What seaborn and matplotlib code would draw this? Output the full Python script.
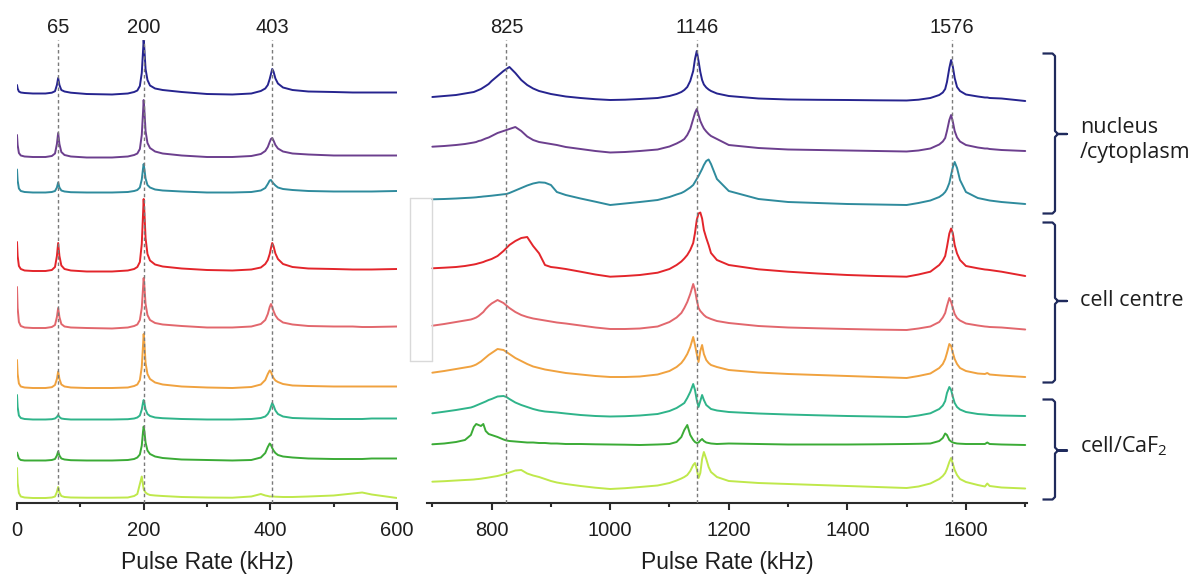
import numpy as np
import matplotlib
matplotlib.use("Agg")
import matplotlib.pyplot as plt
from matplotlib.lines import Line2D
from matplotlib.ticker import MultipleLocator
import seaborn as sns

sns.set_theme(style="white")
plt.rcParams["font.family"] = ["Liberation Sans", "DejaVu Sans"]

# ---------------------------------------------------------------- data
# Pulse-rate axis for the low-frequency window (kHz)
low_khz = [0, 1, 3, 6, 12, 25, 45, 55, 60, 63, 65, 67, 70, 75, 85, 110, 150, 175,
           185, 190, 194, 197, 199, 200, 201, 203, 206, 210, 218, 230, 260, 300,
           340, 370, 385, 392, 396, 399, 401, 403, 405, 408, 412, 420, 435, 460,
           500, 530, 545, 560, 600]

# Pulse-rate axis for the high-frequency window (kHz)
high_khz = [700, 720, 740, 755, 765, 770, 774, 778, 782, 786, 790, 795, 800, 810,
            820, 825, 830, 840, 850, 860, 870, 880, 890, 900, 910, 925, 950, 975, 1000, 1025,
            1050, 1080, 1100, 1112, 1120, 1125, 1130, 1135, 1140, 1143, 1146, 1149,
            1152, 1155, 1158, 1162, 1166, 1170, 1180, 1200, 1250, 1300, 1350, 1400, 1450, 1500, 1520,
            1540, 1555, 1561, 1565, 1568, 1572, 1575, 1578, 1581, 1585, 1590, 1600,
            1620, 1632, 1636, 1640, 1660, 1700]

# Intensities (arb. units) -- nucleus / cytoplasm spectra
nucleus_1_low = [8, 4.5, 1.5, 0.5, 0, -0.5, -0.5, 0.3, 1.8, 8, 15, 8, 3, 1.5, 0.3, -1, -1.5, -0.5,
                 1, 2.5, 7, 20, 42, 53, 45, 24, 13, 7.5, 4.5, 3, 1, -1,
                 -1.5, -0.5, 2, 4.5, 8, 14, 19, 24, 21.5, 14.5, 9.5, 5.5, 3, 1.5,
                 1, 0.5, 0.5, 0.5, 0.5]
nucleus_2_low = [22, 12, 4, 1.5, 0.5, 0, 0, 1, 3.5, 13, 24, 13, 5, 2, 0.5, -0.5, -0.5, 0.5,
                 2, 3.5, 8, 22, 45, 57, 48, 26, 14, 9, 5.5, 3.5, 1.5, 0,
                 0, 1, 3, 6, 10, 15, 18, 19, 16.5, 12, 8.5, 5.5, 3.5, 2.5,
                 1.5, 1.5, 1.5, 1.5, 1.5]
nucleus_3_low = [23, 12, 4, 1.5, 0.5, 0, 0, 0.5, 1.5, 5, 10, 5, 2, 1, 0.3, 0, 0, 0.5,
                 1.5, 2.5, 5, 13, 24, 28.5, 24, 14, 7.5, 5, 3, 2, 1, 0,
                 0, 0.5, 2, 4.5, 8.5, 12, 12.5, 10.5, 9, 7, 5, 3.5, 2.5, 1.5,
                 1, 1, 1, 1, 1.5]

nucleus_1_high = [3, 4, 5, 6.5, 7.5, 8, 9, 10, 11, 12.5, 14, 16, 19, 24,
                  29, 31, 33, 27, 20, 15, 11.5, 9, 7.5, 6, 5, 3.5, 2, 0.8, 0, 0.3,
                  1, 2, 4, 6, 8, 10, 13, 19, 29, 41, 49, 39,
                  28, 20, 15.5, 12.5, 10.5, 9, 6.5, 4, 1.5, 0.5, 0.2, 0, -0.3, -0.5, 0.3,
                  2, 5, 7.5, 11, 18, 32, 40, 33, 22, 13, 9, 5.5,
                  3.5, 2.5, 2.5, 2, 1.5, -1]
nucleus_2_high = [6.3, 7, 8, 9, 10, 10.5, 11, 12, 12.5, 13.5, 14.5, 15.5, 17, 20,
                  22, 23, 24, 26, 22, 16.5, 13, 11, 10, 9, 8, 6, 4, 2, 0.5, 1,
                  2, 3.5, 6.5, 9.5, 12, 14, 18, 24, 34, 40, 44, 38,
                  32, 28, 24.5, 21.5, 19, 17, 14, 8, 5, 3.5, 3, 2.5, 2, 1.5, 2.5,
                  4.5, 8.5, 11.5, 15, 22, 33, 38, 31, 22, 15.5, 11.5, 8,
                  5.5, 4.5, 4.5, 4, 3, 2]
nucleus_3_high = [5.7, 6, 6.5, 7, 7.3, 7.5, 7.7, 8, 8.2, 8.5, 8.7, 9, 9.3, 10,
                  10.7, 11, 12, 14.5, 17, 19.5, 21.5, 22.7, 22.3, 20, 13, 10, 6.5, 3.3, 0, 1.5,
                  3, 5, 8, 10.5, 12, 13.5, 15.5, 17.5, 20, 23, 26, 29,
                  32.5, 36, 40, 44, 45.5, 41, 26, 14, 6, 3, 2, 1, 0.5, 0, 2,
                  4.5, 8, 10.5, 13, 16, 22, 30, 38, 43, 37, 25, 13,
                  7, 5.5, 5, 4.5, 3, 1]

# Intensities (arb. units) -- cell centre spectra
centre_1_low = [29, 15, 5, 2, 0.5, 0, 0, 1, 4, 15, 28, 15, 5.5, 2, 0.5, -0.5, -0.5, 0.5,
                2, 4, 9, 27, 57, 72, 61, 33, 17, 10.5, 6.5, 4.5, 2.5, 1,
                0.5, 1.5, 3.5, 7, 11, 17, 23, 28, 25, 17.5, 12, 7, 4, 2.5,
                2, 1.5, 1.5, 1.5, 2]
centre_2_low = [41, 20, 6, 2, 0.5, 0, 0, 1, 3, 11, 20, 11, 4, 1.5, 0.5, 0, -0.5, 0.5,
                2, 3.5, 8, 20, 40, 50, 43, 24, 13, 8, 5, 3.5, 2, 0.5,
                0.5, 1.5, 4, 8, 14, 21, 24, 21, 17, 12.5, 9, 5.5, 3.5, 2,
                1.5, 1.5, 1, 1, 1.5]
centre_3_low = [28, 14, 4.5, 1.5, 0.5, 0, 0, 0.8, 3, 9, 16.5, 9, 3.5, 1.5, 0.5, 0, 0, 0.5,
                2, 3.5, 8, 21, 43, 54, 46, 25, 14, 9, 5.5, 3.5, 1.5, 0.5,
                0, 1, 3.5, 8, 14, 17.5, 16, 12.5, 10, 7.5, 6, 4, 2.5, 2,
                1.5, 1.5, 1.5, 1.5, 1.5]

centre_1_high = [8.7, 9.3, 10, 11, 12, 12.5, 13, 13.7, 14.3, 15, 16, 17, 18, 21,
                 26, 29, 32, 36, 39, 40, 31, 23.7, 12, 10, 9.3, 8, 5.3, 2.5, 0.3, 1,
                 2, 4.3, 8, 12, 15.5, 18.5, 22, 27, 34, 44, 57, 63.5,
                 64.5, 58.5, 47, 39, 32, 24, 17, 12, 7.7, 5.3, 3.5, 2, 1, 0.3, 2.5,
                 5.3, 12, 16.5, 21, 30, 43.5, 48.5, 43.5, 32, 23.5, 17, 11,
                 8.7, 7.5, 7.3, 7, 5.3, 1]
centre_2_high = [4.3, 6, 8, 9.5, 10.5, 11.5, 12.5, 14, 16, 18, 21, 24, 26.5, 30,
                 27, 24.5, 22, 18, 15, 13, 11.5, 10.5, 9.5, 8.5, 7.5, 6.5, 4.5, 2.5, 1, 1,
                 1.5, 3.5, 8, 12.5, 17, 22, 28, 36, 46, 40, 30, 22,
                 19, 17, 15, 13, 12, 11, 9, 7, 4, 2.5, 1.7, 1, 0.4, 0, 1.5,
                 3.5, 8, 12.5, 17, 24, 32, 28, 22, 16, 12, 9.5, 6.5,
                 4.5, 3.5, 3.3, 3, 2.5, 0.5]
centre_3_high = [5.3, 7, 9, 10.5, 11.5, 12.5, 13.5, 15, 16.5, 18.5, 20.5, 23, 25, 29,
                 28, 26, 24, 20, 17, 14, 11.5, 10, 8.5, 7.5, 6.5, 5, 3.5, 2, 1, 1,
                 1.5, 3.5, 7, 11, 15, 19, 24, 31, 41, 33, 24, 16,
                 27, 33, 24, 18, 15, 13, 11, 8, 5.5, 4, 3, 2, 1, 0, 2,
                 4.5, 10, 14, 19, 25, 34, 32, 25, 19, 14, 10, 7,
                 4.5, 4, 5, 3.5, 2.5, 1]

# Intensities (arb. units) -- cell / CaF2 interface spectra
caf2_1_low = [24.5, 12.5, 4, 1.5, 0.5, 0, 0, 0.3, 1, 2.5, 4.5, 2.5, 1, 0.5, 0, 0, 0, 0.3,
              1, 2, 4, 10, 17, 19.5, 17, 10, 5.5, 3.5, 2, 1.3, 0.5, 0,
              0, 0.5, 1.5, 3, 5.5, 9, 13, 16.5, 14, 9, 5.5, 3, 1.5, 1,
              0.5, 0.5, 0.5, 1, 1]
caf2_2_low = [8, 6, 2, 0.5, 0, 0, 0, 0.5, 1.5, 5, 9, 5, 2, 1, 0.3, 0, 0, 0.5,
              1.5, 3, 6, 15, 29, 34, 30, 18, 10, 6.5, 4, 2.5, 1, 0.5,
              0, 0.5, 3, 7.5, 13.5, 17, 15.5, 12.5, 10, 7.5, 5.5, 4, 3, 2,
              1.5, 1.5, 1.5, 2, 2]
caf2_3_low = [30, 15, 5, 1.5, 0.5, 0, 0, 0.5, 1.5, 6, 11, 5.5, 2, 1, 0.5, 0.3, 0.3, 0.5,
              2, 4, 14, 21.5, 13, 9, 7.5, 5.5, 4, 3, 2.5, 2, 1, 0.5,
              0.3, 1.5, 4, 2.5, 2, 1.5, 1.5, 1.5, 1.5, 1.3, 1.2, 1, 1, 1.5,
              2.5, 4.5, 5.5, 3.5, 0]

caf2_1_high = [3.7, 5.3, 7, 8.5, 9.5, 10.5, 11.5, 12.5, 13.5, 14.5, 15.5, 17, 18, 20.5,
               21, 20, 18, 14.5, 12, 10, 8, 6.5, 5.5, 5, 4.5, 3.5, 2, 1, 0.5, 0.8,
               1.5, 3, 6, 9, 12, 14, 19, 25, 33, 27, 17, 10,
               16, 22, 17, 12, 10, 8, 6.5, 5, 3.5, 2.5, 1.7, 1, 0.5, 0, 1.5,
               3.7, 8, 11.5, 16, 24, 30, 27, 20, 14, 10, 7.5, 5,
               3, 2.5, 2.3, 2, 1.5, 1]
caf2_2_high = [0.7, 1.5, 3, 5, 10, 18, 21, 20, 19, 21, 14, 11, 10, 8,
               5.5, 4.5, 4, 3.5, 3, 2.5, 2.5, 2, 2, 1.5, 1.5, 1, 1, 0.7, 0.5, 0.3,
               0, 0.5, 1, 3, 8, 15, 20, 10, 5, 3, 2, 2.5,
               4.5, 6, 4, 2.5, 2, 1.5, 1, 1.5, 1, 0.5, 0.5, 0.5, 0.7, 1, 1.2,
               1.5, 4, 7, 11.5, 10, 5, 3.5, 2.5, 2, 1.5, 1.3, 1,
               1, 1, 2.5, 1, 0.5, 0]
caf2_3_high = [7.3, 7.8, 8.5, 9, 9.3, 9.5, 9.8, 10, 10.3, 10.7, 11, 11.5, 12, 13,
               14.5, 15.5, 16.5, 18.5, 19, 15.5, 13.5, 12, 10, 8, 6.5, 5, 3, 1.3, 0, 0.8,
               2, 3.5, 6, 8.5, 10.5, 12, 14, 18, 24, 26, 20, 11,
               16, 30, 37, 30, 22, 17, 12, 8, 6, 5, 4, 3, 2, 1, 2.5,
               5.5, 10, 13, 16, 20, 27, 31, 25, 19, 14, 10, 7,
               4, 2.5, 5.5, 3, 1.5, 0.5]

low_spectra = [nucleus_1_low, nucleus_2_low, nucleus_3_low,
               centre_1_low, centre_2_low, centre_3_low,
               caf2_1_low, caf2_2_low, caf2_3_low]
high_spectra = [nucleus_1_high, nucleus_2_high, nucleus_3_high,
                centre_1_high, centre_2_high, centre_3_high,
                caf2_1_high, caf2_2_high, caf2_3_high]

low_marks = [65, 200, 403]
high_marks = [825, 1146, 1576]
group_labels = ["nucleus\n/cytoplasm", "cell centre", "cell/CaF$_\\mathregular{2}$"]

# ---------------------------------------------------------------- styling
colors = ["#26248f", "#6c3f8e", "#2f8b9d", "#e3252b", "#e2676d",
          "#f0a23f", "#2fb48a", "#3bab36", "#bfe84b"]
# vertical stacking of each trace (same units as the intensities)
low_offsets = [409.5, 345.5, 310, 231.5, 174.5, 114.5, 83, 42, 4.5]
high_offsets = [402.5, 349.5, 297.5, 225.5, 172.5, 124.5, 85.5, 57.5, 13.5]

W, H = 1197, 576
fig = plt.figure(figsize=(W / 100, H / 100), dpi=100)
fig.patch.set_facecolor("white")


def fx(px):
    return px / W


def fy(py):
    return 1 - py / H


ax_top, ax_bot = 40, 502.5
ax_lo = fig.add_axes([fx(17), fy(ax_bot), (397 - 17) / W, (ax_bot - ax_top) / H])
ax_hi = fig.add_axes([fx(427), fy(ax_bot), (1027 - 427) / W, (ax_bot - ax_top) / H])

ink = "#2b2b2b"
for ax, khz, spectra, offs, marks, xlim, major in [
        (ax_lo, low_khz, low_spectra, low_offsets, low_marks, (0, 600), 200),
        (ax_hi, high_khz, high_spectra, high_offsets, high_marks, (691, 1703), 200)]:
    for vals, off, col in zip(spectra, offs, colors):
        sns.lineplot(x=khz, y=np.asarray(vals, dtype=float) + off, ax=ax,
                     color=col, lw=1.4, sort=False, estimator=None, zorder=2)
    for m in marks:
        ax.axvline(m, color="#7a7a7a", lw=1.0, ls=(0, (2.5, 2)), zorder=3)
        ax.text(m, 1 + 13 / (ax_bot - ax_top), str(m),
                transform=ax.get_xaxis_transform(), ha="center", va="center",
                fontsize=14.5, color="#1e1e1e")
    ax.set_xlim(*xlim)
    ax.set_ylim(0, ax_bot - ax_top)
    ax.set_yticks([])
    for side in ("left", "right", "top"):
        ax.spines[side].set_visible(False)
    ax.spines["bottom"].set_color(ink)
    ax.spines["bottom"].set_linewidth(1.5)
    ax.xaxis.set_major_locator(MultipleLocator(major))
    ax.xaxis.set_minor_locator(MultipleLocator(major / 2))
    ax.tick_params(axis="x", which="major", direction="out", length=5, width=1.5,
                   color=ink, labelsize=14.5, labelcolor="#1e1e1e", pad=8, bottom=True)
    ax.tick_params(axis="x", which="minor", direction="out", length=3, width=1.5,
                   color=ink, bottom=True)
    ax.set_xlabel("Pulse Rate (kHz)", fontsize=16.5, color="#1e1e1e", labelpad=8)
    ax.set_ylabel("")
    ax.set_facecolor("none")

ax_hi.set_xticks([800, 1000, 1200, 1400, 1600])
ax_hi.set_xticks([700, 900, 1100, 1300, 1500, 1700], minor=True)

# blank inset frame between the two windows
frame = "#d9d9d9"
for xs, ys in [([410, 410], [198, 361]), ([432, 432], [198, 361]),
               ([410, 432], [361, 361]), ([410, 432], [198, 198])]:
    fig.add_artist(Line2D([fx(v) for v in xs], [fy(v) for v in ys],
                          color=frame, lw=1.0, zorder=1))

# group brackets on the right
navy = "#1f2a5c"
brackets = [(53.5, 213.5, 134), (222.5, 382.5, 301), (399.5, 499.5, 450.5)]
label_y = [140, 301, 446]
for (top, bot, mid), lab, ly in zip(brackets, group_labels, label_y):
    xs = [1042.5, 1052.5, 1055, 1055, 1058, 1067, 1058, 1055, 1055, 1052.5, 1042.5]
    ys = [top, top, top + 2.5, mid - 3, mid, mid, mid, mid + 3, bot - 2.5, bot, bot]
    fig.add_artist(Line2D([fx(v) for v in xs], [fy(v) for v in ys],
                          color=navy, lw=1.6, solid_joinstyle="round",
                          solid_capstyle="butt"))
    fig.text(fx(1080), fy(ly), lab, ha="left", va="center", fontsize=15.5,
             color="#1e1e1e", linespacing=1.3,
             family=["Open Sans", "DejaVu Sans"])

fig.savefig("out.png", dpi=100, facecolor="white")
